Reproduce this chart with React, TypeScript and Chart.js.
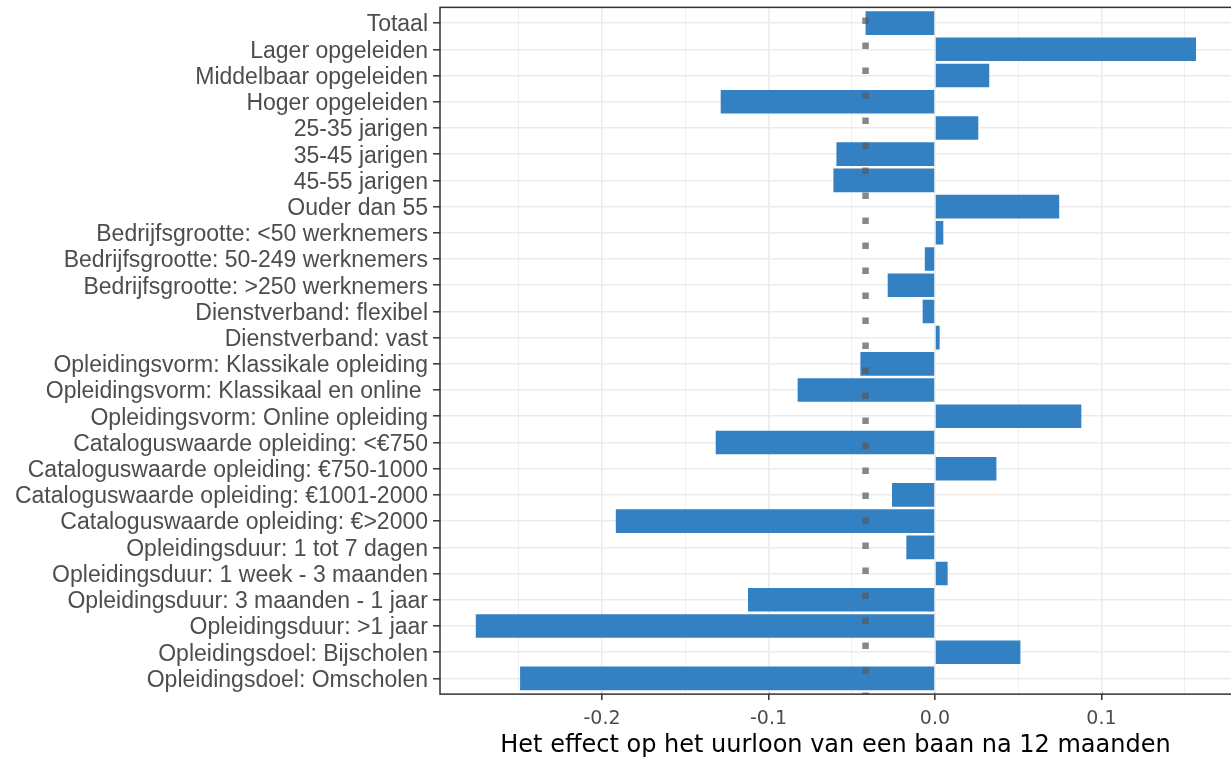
import { useEffect, useRef } from 'react';
import { Chart, registerables } from 'chart.js';

Chart.register(...registerables);

// Subgroups, top to bottom
const categories = [
  'Totaal',
  'Lager opgeleiden',
  'Middelbaar opgeleiden',
  'Hoger opgeleiden',
  '25-35 jarigen',
  '35-45 jarigen',
  '45-55 jarigen',
  'Ouder dan 55',
  'Bedrijfsgrootte: <50 werknemers',
  'Bedrijfsgrootte: 50-249 werknemers',
  'Bedrijfsgrootte: >250 werknemers',
  'Dienstverband: flexibel',
  'Dienstverband: vast',
  'Opleidingsvorm: Klassikale opleiding',
  'Opleidingsvorm: Klassikaal en online ',
  'Opleidingsvorm: Online opleiding',
  'Cataloguswaarde opleiding: <€750',
  'Cataloguswaarde opleiding: €750-1000',
  'Cataloguswaarde opleiding: €1001-2000',
  'Cataloguswaarde opleiding: €>2000',
  'Opleidingsduur: 1 tot 7 dagen',
  'Opleidingsduur: 1 week - 3 maanden',
  'Opleidingsduur: 3 maanden - 1 jaar',
  'Opleidingsduur: >1 jaar',
  'Opleidingsdoel: Bijscholen',
  'Opleidingsdoel: Omscholen',
];

// Estimated effect on hourly wage per subgroup
const effects = [
  -0.0417, 0.1568, 0.0326, -0.1287, 0.026, -0.0592, -0.061, 0.0746, 0.005,
  -0.0061, -0.0284, -0.0074, 0.0028, -0.0448, -0.0825, 0.0879, -0.1317, 0.0369,
  -0.0258, -0.1917, -0.0172, 0.0076, -0.1123, -0.2758, 0.0513, -0.2492,
];

// Overall effect, drawn as a dotted reference line
const totalEffect = -0.0417;

// Horizontal axis range and tick spacing
const xMin = -0.2973;
const xMax = 0.1778;
const xStep = 0.05;

const axisTitle = 'Het effect op het uurloon van een baan na 12 maanden';

const isMajor = (v: number) => Math.abs(Math.round(v * 10) - v * 10) < 1e-6;

const GRID = '#ebebeb';
const DARK = '#333333';

// Panel frame, gridline continuation into the discrete-axis expansion, and the dotted line
const panelPlugin = {
  id: 'panelFrame',
  beforeDatasetsDraw(chart: any) {
    const { ctx, chartArea: ca, scales } = chart;
    const y = scales.y;
    const x = scales.x;
    const step = y.getPixelForValue(1) - y.getPixelForValue(0);
    const top = y.getPixelForValue(0) - 0.6 * step;
    const bottom = y.getPixelForValue(categories.length - 1) + 0.6 * step;
    ctx.save();
    ctx.strokeStyle = GRID;
    x.ticks.forEach((t: any) => {
      const px = x.getPixelForValue(t.value);
      ctx.lineWidth = isMajor(t.value) ? 1.6 : 0.8;
      ctx.beginPath();
      ctx.moveTo(px, top);
      ctx.lineTo(px, ca.top);
      ctx.moveTo(px, ca.bottom);
      ctx.lineTo(px, bottom);
      ctx.stroke();
    });
    ctx.restore();
  },
  afterDatasetsDraw(chart: any) {
    const { ctx, chartArea: ca, scales } = chart;
    const y = scales.y;
    const x = scales.x;
    const step = y.getPixelForValue(1) - y.getPixelForValue(0);
    const top = y.getPixelForValue(0) - 0.6 * step;
    const bottom = y.getPixelForValue(categories.length - 1) + 0.6 * step;
    const px = x.getPixelForValue(totalEffect);
    ctx.save();
    ctx.beginPath();
    ctx.rect(ca.left, top, ca.right - ca.left, bottom - top);
    ctx.clip();
    ctx.strokeStyle = 'rgba(85, 90, 100, 0.72)';
    ctx.lineWidth = 6.5;
    ctx.lineCap = 'butt';
    ctx.setLineDash([6.5, 18.5]);
    ctx.beginPath();
    ctx.moveTo(px, top + 10);
    ctx.lineTo(px, bottom + 10);
    ctx.stroke();
    ctx.restore();

    ctx.save();
    ctx.strokeStyle = DARK;
    ctx.lineWidth = 1.5;
    ctx.strokeRect(ca.left, top, ca.right - ca.left + 10, bottom - top);
    ctx.restore();
  },
};

export default function App() {
  const canvasRef = useRef<HTMLCanvasElement | null>(null);

  useEffect(() => {
    const canvas = canvasRef.current;
    if (!canvas) return;
    const chart = new Chart(canvas, {
      type: 'bar',
      data: {
        labels: categories,
        datasets: [
          {
            data: effects,
            backgroundColor: '#3380c2',
            borderWidth: 0,
            categoryPercentage: 0.9,
            barPercentage: 1.0,
          },
        ],
      },
      options: {
        indexAxis: 'y',
        responsive: false,
        animation: false,
        devicePixelRatio: 1,
        layout: { padding: { top: 10, left: 0, right: 0, bottom: 0 } },
        plugins: {
          legend: { display: false },
          tooltip: { enabled: false },
        },
        scales: {
          x: {
            type: 'linear',
            min: xMin,
            max: xMax,
            border: { display: false },
            grid: {
              color: GRID,
              lineWidth: (c: any) => (c.tick && isMajor(c.tick.value) ? 1.6 : 0.8),
              tickLength: 8.5,
              tickColor: (c: any) => (c.tick && isMajor(c.tick.value) ? DARK : 'rgba(0,0,0,0)'),
              tickWidth: 1.5,
            },
            ticks: {
              stepSize: xStep,
              includeBounds: false,
              autoSkip: false,
              maxRotation: 0,
              padding: 8,
              color: '#4d4d4d',
              font: { family: "'DejaVu Sans', sans-serif", size: 19 },
              callback: (v: any) => {
                const n = Number(v);
                if (!isMajor(n)) return '';
                return Math.abs(n) < 1e-9 ? '0.0' : n.toFixed(1);
              },
            },
            title: {
              display: true,
              text: axisTitle,
              color: '#000000',
              font: { family: "'DejaVu Sans', sans-serif", size: 24 },
              padding: { top: 0, bottom: 0 },
            },
            afterFit: (s: any) => {
              s.height = 68.5;
              s.paddingLeft = 0;
              s.paddingRight = 0;
            },
          },
          y: {
            type: 'category',
            border: { display: false },
            grid: {
              offset: false,
              color: GRID,
              lineWidth: 1.6,
              tickLength: 7,
              tickColor: DARK,
              tickWidth: 1.5,
            },
            ticks: {
              autoSkip: false,
              padding: 5,
              color: '#4d4d4d',
              // a 4px line pitch with an empty first line sets each label 2px lower,
              // so the capitals sit centred on their tick mark
              font: { family: "'Liberation Sans', Arial, sans-serif", size: 23, lineHeight: '4px' },
              callback: (_v: any, i: number) => ['', categories[i]],
            },
            afterFit: (s: any) => {
              s.width = 440;
              s.paddingTop = 0;
              s.paddingBottom = 0;
            },
          },
        },
      },
      plugins: [panelPlugin],
    });
    return () => chart.destroy();
  }, []);

  return (
    <div style={{ position: 'fixed', left: 0, top: 0, width: 1231, height: 760, background: '#ffffff' }}>
      <canvas ref={canvasRef} width={1231} height={760} />
    </div>
  );
}
